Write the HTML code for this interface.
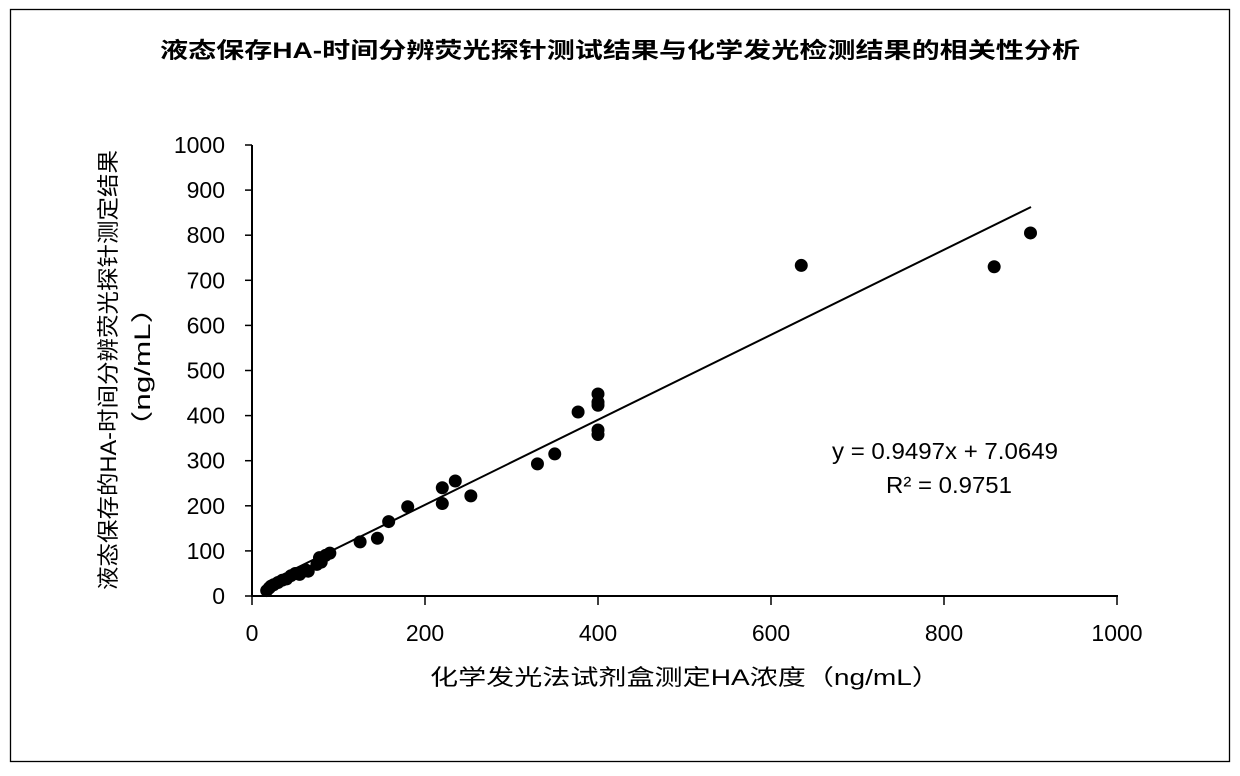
<!DOCTYPE html>
<html><head><meta charset="utf-8"><style>
html,body{margin:0;padding:0;background:#fff;}
svg text{font-family:"Liberation Sans","Noto Sans CJK SC",sans-serif;fill:#000;}
</style></head><body>
<svg width="1240" height="771" viewBox="0 0 1240 771" xmlns="http://www.w3.org/2000/svg">
<rect x="10.5" y="9.5" width="1219" height="752" fill="#fff" stroke="#000" stroke-width="1.3"/>
<text x="160" y="58" font-size="22" font-weight="bold" textLength="920" lengthAdjust="spacingAndGlyphs">液态保存HA-时间分辨荧光探针测试结果与化学发光检测结果的相关性分析</text>
<g stroke="#000" stroke-width="2">
<line x1="252" y1="145" x2="252" y2="597"/>
<line x1="251" y1="596" x2="1118" y2="596"/>
</g>
<g stroke="#000" stroke-width="1.5" id="ticks"></g>
<g font-size="23" text-anchor="end" id="yl"></g>
<g font-size="23" text-anchor="middle" id="xl"></g>
<line x1="268" y1="582" x2="1031" y2="207" stroke="#000" stroke-width="2"/>
<g id="pts" fill="#000"></g>
<text x="832" y="459" font-size="23" textLength="226" lengthAdjust="spacingAndGlyphs">y = 0.9497x + 7.0649</text>
<text x="886" y="493" font-size="23" textLength="126" lengthAdjust="spacingAndGlyphs">R² = 0.9751</text>
<text x="430" y="685" font-size="22" textLength="510" lengthAdjust="spacingAndGlyphs">化学发光法试剂盒测定HA浓度（ng/mL）</text>
<text transform="translate(116,590) rotate(-90)" font-size="22" textLength="440" lengthAdjust="spacingAndGlyphs">液态保存的HA-时间分辨荧光探针测定结果</text>
<text transform="translate(150,442) rotate(-90)" font-size="22" textLength="150" lengthAdjust="spacingAndGlyphs">（ng/mL）</text>
</svg>
<script>
var ns="http://www.w3.org/2000/svg";
function el(p,t,a,txt){var e=document.createElementNS(ns,t);for(var k in a)e.setAttribute(k,a[k]);if(txt!=null)e.textContent=txt;document.getElementById(p).appendChild(e);}
for(var i=0;i<=10;i++){var y=596-i*45.1;el("ticks","line",{x1:245,y1:y,x2:252,y2:y});el("yl","text",{x:225,y:y+8},String(i*100));}
for(var i=0;i<=5;i++){var x=252+i*173;el("ticks","line",{x1:x,y1:596,x2:x,y2:605});el("xl","text",{x:x,y:641},String(i*200));}
var d=[[17,12],[20,18],[22,22],[25,25],[30,30],[35,35],[40,38],[45,45],[50,50],[55,48],[60,55],[62,58],[65,55],[75,70],[78,85],[80,75],[85,90],[90,95],[125,120],[145,128],[158,165],[180,198],[220,205],[220,240],[235,255],[253,222],[330,293],[350,315],[377,408],[400,448],[400,430],[400,423],[400,368],[400,358],[635,733],[858,730],[900,805]];
d.forEach(function(p){el("pts","circle",{cx:252+p[0]*0.865,cy:596-p[1]*0.451,r:6.5});});
</script>
</body></html>
